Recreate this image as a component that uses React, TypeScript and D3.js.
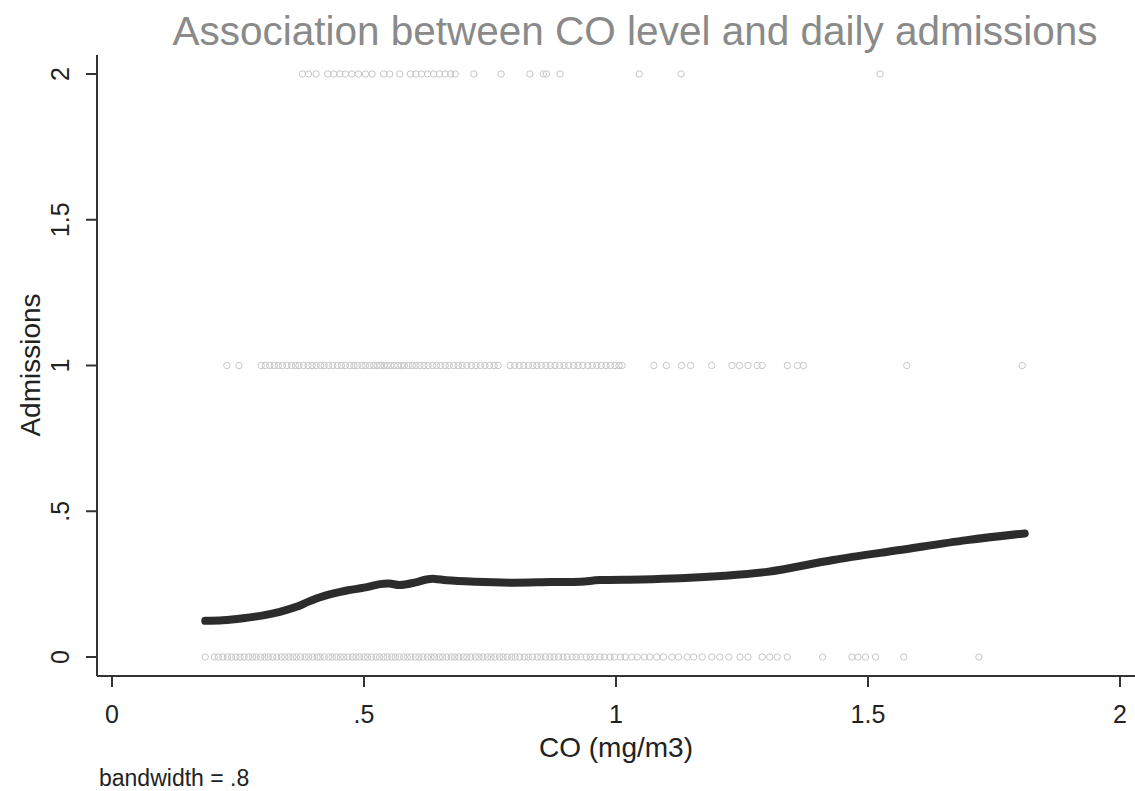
import React from "react";
import * as d3 from "d3";

// ---- Data ----
const title = "Association between CO level and daily admissions";
const xLabel = "CO (mg/m3)";
const yLabel = "Admissions";
const note = "bandwidth = .8";
const xTicks = [0, 0.5, 1, 1.5, 2];
const yTicks = [0, 0.5, 1, 1.5, 2];
const xTickLabels = ["0", ".5", "1", "1.5", "2"];
const yTickLabels = ["0", ".5", "1", "1.5", "2"];

// CO values of days with 2 admissions
const coAdmit2 = [
  0.378, 0.39, 0.405, 0.428, 0.44, 0.452, 0.463, 0.476, 0.489, 0.503, 0.516,
  0.539, 0.551, 0.571, 0.592, 0.603, 0.614, 0.626, 0.638, 0.65, 0.661, 0.672,
  0.681, 0.718, 0.772, 0.829, 0.856, 0.862, 0.889, 1.046, 1.129, 1.524,
];

// CO values of days with 1 admission
const coAdmit1 = [
  0.228, 0.252, 0.296, 0.304, 0.313, 0.322, 0.33, 0.338, 0.347, 0.356, 0.364,
  0.371, 0.38, 0.389, 0.397, 0.405, 0.414, 0.421, 0.43, 0.438, 0.447, 0.455,
  0.463, 0.472, 0.48, 0.487, 0.496, 0.503, 0.511, 0.519, 0.526, 0.533, 0.54,
  0.546, 0.553, 0.56, 0.567, 0.574, 0.58, 0.588, 0.596, 0.603, 0.611, 0.619,
  0.627, 0.636, 0.644, 0.652, 0.661, 0.669, 0.678, 0.687, 0.695, 0.704, 0.713,
  0.722, 0.731, 0.74, 0.749, 0.758, 0.766, 0.79, 0.799, 0.808, 0.817, 0.826,
  0.835, 0.843, 0.852, 0.861, 0.87, 0.879, 0.888, 0.897, 0.906, 0.916, 0.925,
  0.934, 0.944, 0.953, 0.962, 0.971, 0.98, 0.989, 0.998, 1.006, 1.012, 1.075,
  1.1, 1.13, 1.148, 1.19, 1.23, 1.245, 1.262, 1.28, 1.29, 1.34, 1.36, 1.372,
  1.577, 1.806,
];

// CO values of days with 0 admissions
const coAdmit0 = [
  0.185, 0.203, 0.211, 0.22, 0.229, 0.237, 0.246, 0.254, 0.262, 0.271, 0.279,
  0.286, 0.295, 0.303, 0.31, 0.319, 0.327, 0.336, 0.343, 0.351, 0.359, 0.366,
  0.374, 0.383, 0.39, 0.398, 0.407, 0.413, 0.421, 0.43, 0.437, 0.445, 0.453,
  0.46, 0.468, 0.477, 0.484, 0.491, 0.5, 0.507, 0.515, 0.524, 0.531, 0.539,
  0.546, 0.555, 0.562, 0.57, 0.579, 0.586, 0.593, 0.602, 0.609, 0.617, 0.626,
  0.633, 0.64, 0.649, 0.656, 0.664, 0.673, 0.68, 0.688, 0.697, 0.704, 0.712,
  0.721, 0.728, 0.736, 0.745, 0.752, 0.76, 0.769, 0.776, 0.784, 0.793, 0.8,
  0.809, 0.818, 0.826, 0.834, 0.844, 0.851, 0.86, 0.869, 0.877, 0.886, 0.895,
  0.903, 0.913, 0.921, 0.93, 0.941, 0.949, 0.958, 0.968, 0.977, 0.988, 0.997,
  1.009, 1.018, 1.031, 1.042, 1.056, 1.067, 1.081, 1.094, 1.111, 1.124, 1.141,
  1.154, 1.171, 1.19, 1.206, 1.224, 1.246, 1.262, 1.29, 1.305, 1.32, 1.34, 1.41,
  1.468, 1.48, 1.495, 1.515, 1.571, 1.72,
];

// lowess smooth
const lowessCO = [
  0.185, 0.22, 0.26, 0.3, 0.333, 0.366, 0.39, 0.413, 0.44, 0.466, 0.5, 0.532,
  0.55, 0.571, 0.6, 0.624, 0.64, 0.664, 0.72, 0.796, 0.87, 0.929, 0.968, 1.05,
  1.127, 1.2, 1.3, 1.431, 1.563, 1.696, 1.811,
];
const lowessFit = [
  0.124, 0.126, 0.133, 0.143, 0.155, 0.172, 0.19, 0.205, 0.218, 0.228, 0.238,
  0.25, 0.252, 0.247, 0.255, 0.266, 0.268, 0.263, 0.258, 0.255, 0.257, 0.258,
  0.264, 0.266, 0.27, 0.277, 0.292, 0.333, 0.367, 0.401, 0.424,
];

const W = 1135;
const H = 791;
const FONT = "'Liberation Sans', Arial, Helvetica, sans-serif";

export default function App() {
  const x = d3.scaleLinear().domain([0, 2]).range([112, 1120]);
  const y = d3.scaleLinear().domain([0, 2]).range([657, 74]);

  const axisX = 97; // y-axis line position
  const axisY = 676; // x-axis line position

  const points: { co: number; a: number }[] = [
    ...coAdmit0.map((co) => ({ co, a: 0 })),
    ...coAdmit1.map((co) => ({ co, a: 1 })),
    ...coAdmit2.map((co) => ({ co, a: 2 })),
  ];

  const line = d3
    .line<number>()
    .x((_, i) => x(lowessCO[i]))
    .y((d) => y(d))
    .curve(d3.curveCatmullRom.alpha(0.5));

  return (
    <svg
      width={W}
      height={H}
      style={{ position: "absolute", left: 0, top: 0, background: "#fff" }}
      fontFamily={FONT}
    >
      <rect width={W} height={H} fill="#fff" />
      {/* title */}
      <text x={635} y={45} textAnchor="middle" fontSize={40.5} fill="#8a8a8a">
        {title}
      </text>

      {/* scatter points */}
      <g fill="none" stroke="#c6c6c6" strokeWidth={1}>
        {points.map((p, i) => (
          <circle key={i} cx={x(p.co)} cy={y(p.a)} r={3.2} />
        ))}
      </g>

      {/* lowess line */}
      <path
        d={line(lowessFit) || ""}
        fill="none"
        stroke="#2c2c2c"
        strokeWidth={8}
        strokeLinecap="round"
        strokeLinejoin="round"
      />

      {/* axes */}
      <g stroke="#333" strokeWidth={2}>
        <line x1={axisX} y1={55} x2={axisX} y2={axisY} />
        <line x1={axisX} y1={axisY} x2={W} y2={axisY} />
        {yTicks.map((t) => (
          <line key={"yt" + t} x1={axisX - 11} x2={axisX} y1={y(t)} y2={y(t)} />
        ))}
        {xTicks.map((t) => (
          <line key={"xt" + t} x1={x(t)} x2={x(t)} y1={axisY} y2={axisY + 11} />
        ))}
      </g>

      {/* y tick labels */}
      {yTicks.map((t, i) => (
        <text
          key={"yl" + t}
          transform={`translate(69,${y(t)}) rotate(-90)`}
          textAnchor="middle"
          fontSize={25}
          fill="#222"
        >
          {yTickLabels[i]}
        </text>
      ))}
      {/* x tick labels */}
      {xTicks.map((t, i) => (
        <text
          key={"xl" + t}
          x={x(t)}
          y={723}
          textAnchor="middle"
          fontSize={25}
          fill="#222"
        >
          {xTickLabels[i]}
        </text>
      ))}

      {/* axis titles */}
      <text
        transform={`translate(40,365) rotate(-90)`}
        textAnchor="middle"
        fontSize={28}
        fill="#222"
      >
        {yLabel}
      </text>
      <text x={616} y={757} textAnchor="middle" fontSize={28} fill="#222">
        {xLabel}
      </text>

      {/* note */}
      <text x={99} y={786} fontSize={23} fill="#222">
        {note}
      </text>
    </svg>
  );
}
